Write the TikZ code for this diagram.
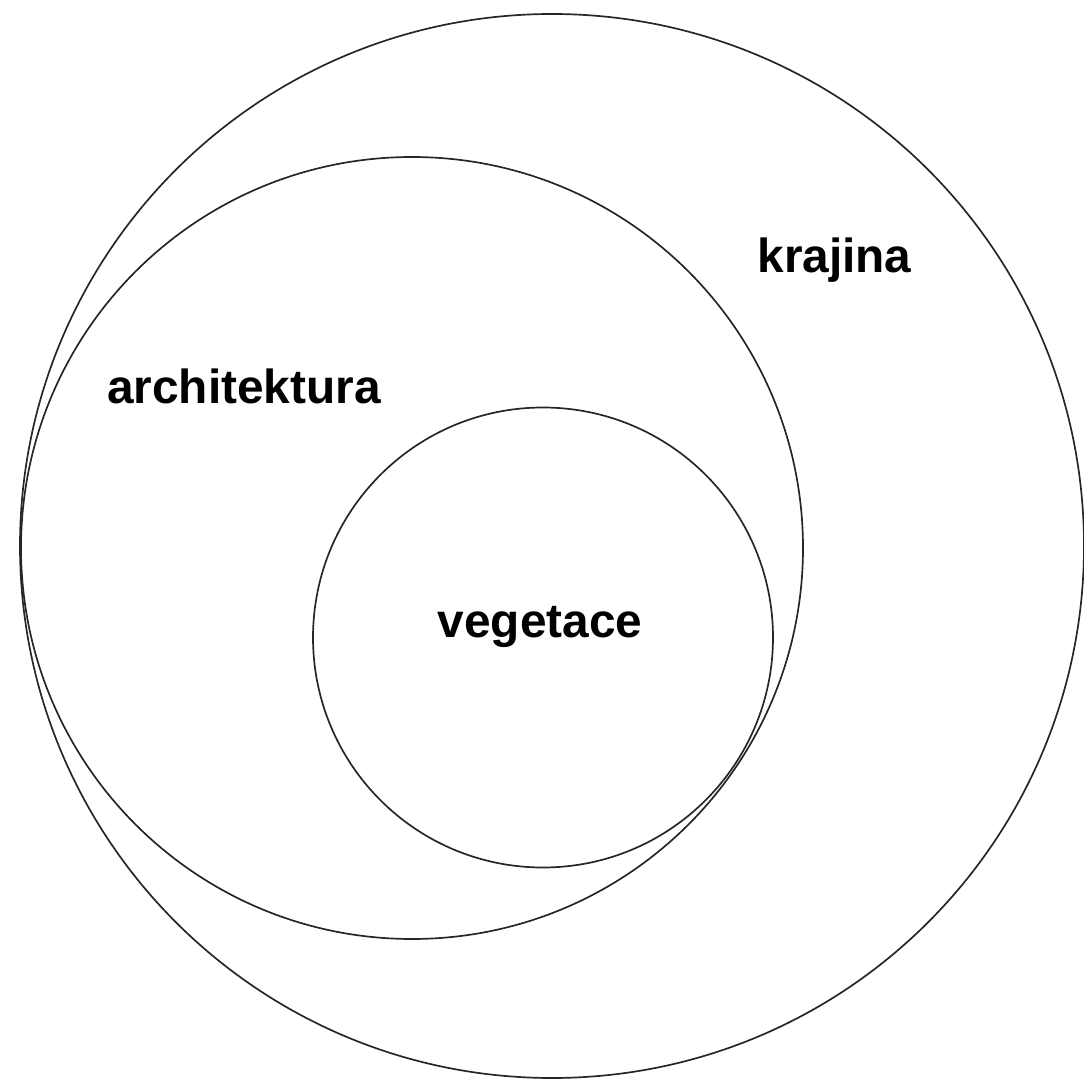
\documentclass[tikz,border=0pt]{standalone}
\usepackage{fontspec}
\setmainfont{Liberation Sans}
\usetikzlibrary{positioning}

\begin{document}
\begin{tikzpicture}[x=0.025cm,y=0.025cm,ring/.style={draw=black!85,line width=1.2pt},lbl/.style={font=\bfseries\fontsize{34}{40}\selectfont,anchor=base,inner sep=0pt}]
\useasboundingbox (0,0) rectangle (1084,1081);
\draw[ring] (552,535) circle[radius=532];
\draw[ring] (412,533) circle[radius=391];
\draw[ring] (543,443.5) circle[radius=230];
\node[lbl] (krajina) at (834.5,808) {krajina};
\node[lbl] (arch) at (244,677) {architektura};
\node[lbl] (veg) at (540,444) {vegetace};
\end{tikzpicture}
\end{document}
